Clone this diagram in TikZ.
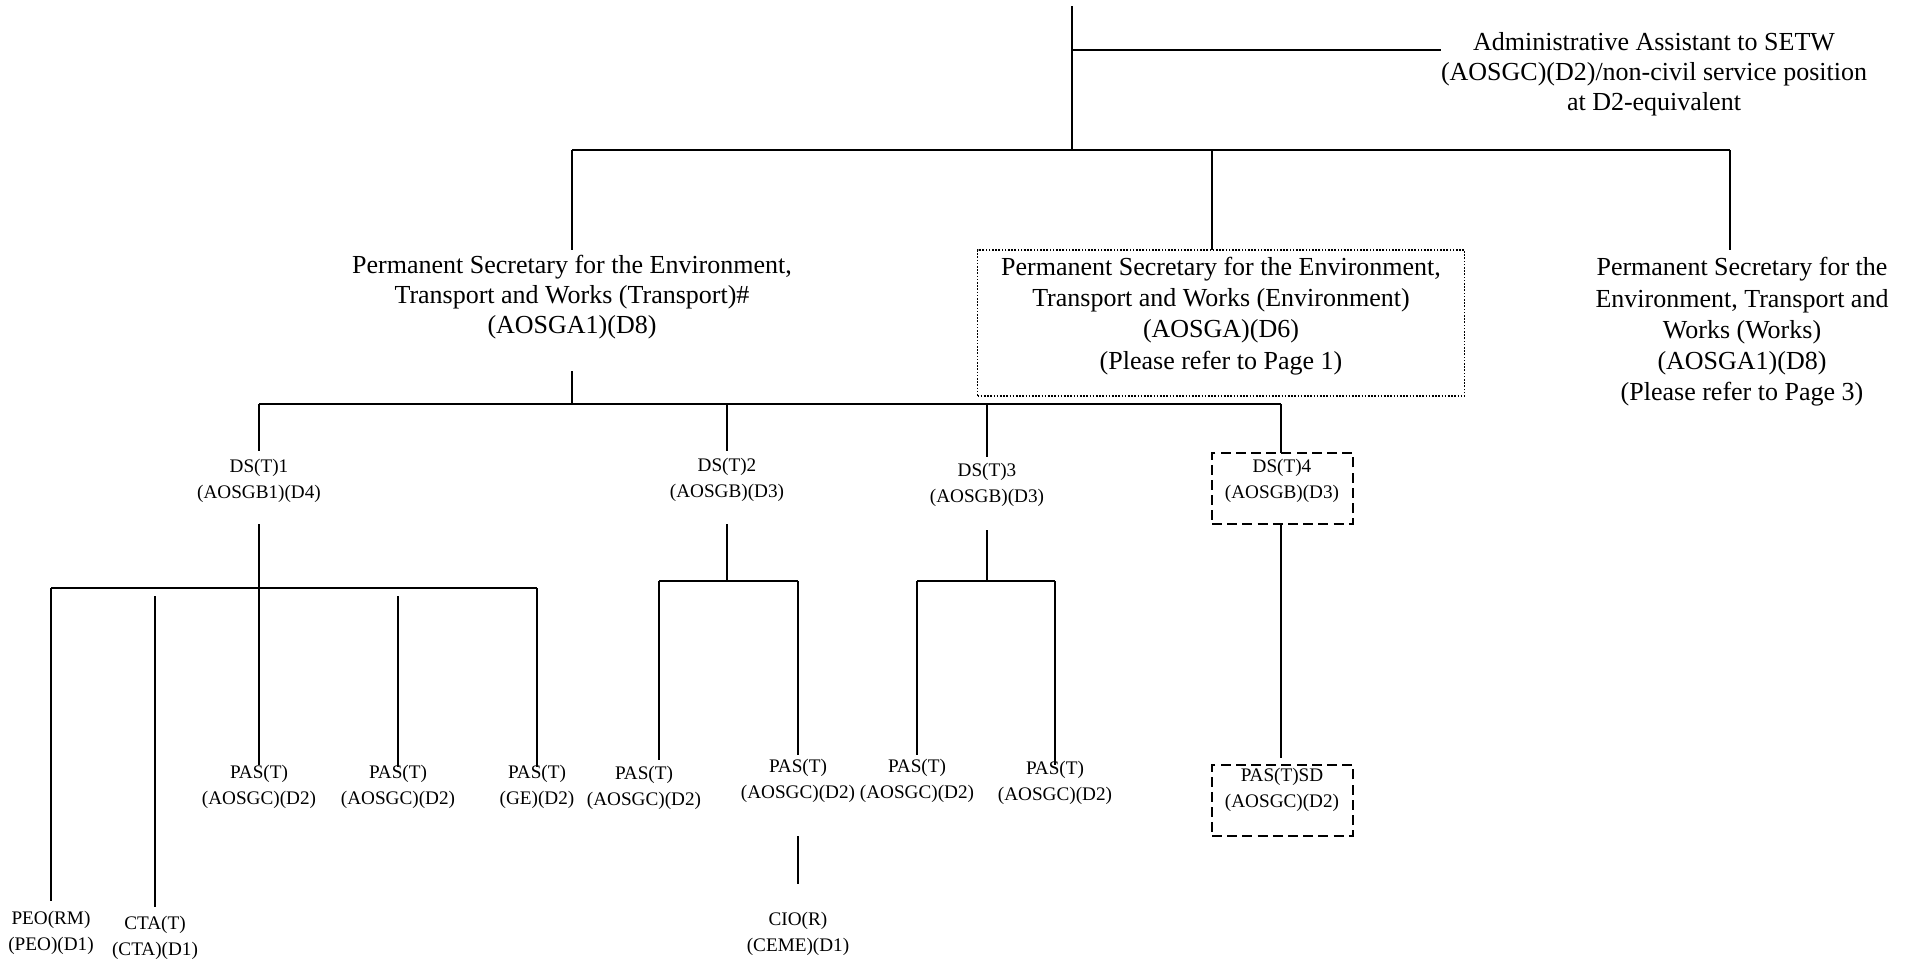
\documentclass[tikz,border=0pt]{standalone}
\usepackage{fontspec}
\setmainfont{Liberation Serif}
\begin{document}
\begin{tikzpicture}[x=0.5pt,y=-0.5pt,
  big/.style={font=\fontsize{13}{15}\selectfont, align=center, inner sep=0pt},
  bigw/.style={font=\fontsize{13}{15.6}\selectfont, align=center, inner sep=0pt},
  small/.style={font=\fontsize{9.6}{12.8}\selectfont, align=center, inner sep=0pt},
  link/.style={line width=0.8pt},
  dotbox/.style={draw, line width=0.7pt, dash pattern=on 0.8pt off 0.8pt, inner sep=0pt, outer sep=0pt},
  dashbox/.style={draw, line width=1pt, dash pattern=on 5pt off 2.6pt, inner sep=0pt, outer sep=0pt}]
\useasboundingbox (0,0) rectangle (1910,959);

% ---------- text nodes ----------
\node[big] (adm) at (1654,74) {Administrative Assistant to SETW\\(AOSGC)(D2)/non-civil service position\\at D2-equivalent};
\node[big] (pst) at (572,297) {Permanent Secretary for the Environment,\\Transport and Works (Transport)\#\\(AOSGA1)(D8)};
\node[dotbox, minimum width=243.5pt, minimum height=73pt] (pse) at (1221,323) {};
\node[bigw] (pse-t) at (1221,316) {Permanent Secretary for the Environment,\\Transport and Works (Environment)\\(AOSGA)(D6)\\(Please refer to Page 1)};
\node[bigw] (psw) at (1742,332) {Permanent Secretary for the\\Environment, Transport and\\Works (Works)\\(AOSGA1)(D8)\\(Please refer to Page 3)};

\node[small] (ds1) at (259,481) {DS(T)1\\(AOSGB1)(D4)};
\node[small] (ds2) at (727,480) {DS(T)2\\(AOSGB)(D3)};
\node[small] (ds3) at (987,485) {DS(T)3\\(AOSGB)(D3)};
\node[dashbox, minimum width=70.5pt, minimum height=35.5pt] (ds4) at (1282.5,488.5) {};
\node[small] (ds4-t) at (1282,481) {DS(T)4\\(AOSGB)(D3)};

\node[small] (pas1) at (259,787) {PAS(T)\\(AOSGC)(D2)};
\node[small] (pas2) at (398,787) {PAS(T)\\(AOSGC)(D2)};
\node[small] (pas3) at (537,787) {PAS(T)\\(GE)(D2)};
\node[small] (pas4) at (644,788) {PAS(T)\\(AOSGC)(D2)};
\node[small] (pas5) at (798,781) {PAS(T)\\(AOSGC)(D2)};
\node[small] (pas6) at (917,781) {PAS(T)\\(AOSGC)(D2)};
\node[small] (pas7) at (1055,783) {PAS(T)\\(AOSGC)(D2)};
\node[dashbox, minimum width=70.5pt, minimum height=35.5pt] (passd) at (1282.5,800.5) {};
\node[small] (passd-t) at (1282,790) {PAS(T)SD\\(AOSGC)(D2)};

\node[small] (peo) at (51,933) {PEO(RM)\\(PEO)(D1)};
\node[small] (cta) at (155,938) {CTA(T)\\(CTA)(D1)};
\node[small] (cio) at (798,934) {CIO(R)\\(CEME)(D1)};

% ---------- junction coordinates ----------
\coordinate (top) at (1072,6);
\coordinate (admj) at (1072,50);
\coordinate (l1c) at (1072,150);
\coordinate (l1a) at (572,150);
\coordinate (l1b) at (1212,150);
\coordinate (l1d) at (1730,150);
\coordinate (pst-in) at (572,250);
\coordinate (psw-in) at (1730,250);
\coordinate (pst-out) at (572,371);
\coordinate (l2c) at (572,404);
\coordinate (l2a) at (259,404);
\coordinate (l2b) at (727,404);
\coordinate (l2d) at (987,404);
\coordinate (l2e) at (1281,404);
\coordinate (ds1-in) at (259,451);
\coordinate (ds2-in) at (727,451);
\coordinate (ds3-in) at (987,457);
\coordinate (ds1-out) at (259,524);
\coordinate (b1c) at (259,588);
\coordinate (b1a) at (51,588);
\coordinate (b1e) at (537,588);
\coordinate (peo-in) at (51,901);
\coordinate (cta-top) at (155,596);
\coordinate (cta-in) at (155,907);
\coordinate (pas1-in) at (259,765);
\coordinate (pas2-top) at (398,596);
\coordinate (pas2-in) at (398,767);
\coordinate (pas3-in) at (537,767);
\coordinate (ds2-out) at (727,524);
\coordinate (b2c) at (727,581);
\coordinate (b2a) at (659,581);
\coordinate (b2b) at (798,581);
\coordinate (pas4-in) at (659,760);
\coordinate (pas5-in) at (798,755);
\coordinate (pas5-out) at (798,836);
\coordinate (cio-in) at (798,884);
\coordinate (ds3-out) at (987,530);
\coordinate (b3c) at (987,581);
\coordinate (b3a) at (917,581);
\coordinate (b3b) at (1055,581);
\coordinate (pas6-in) at (917,755);
\coordinate (pas7-in) at (1055,765);
\coordinate (passd-in) at (1281,758);

% ---------- connectors ----------
\draw[link] (top) -- (l1c);
\draw[link] (admj) -- (adm.west |- admj);
\draw[link] (l1a) -- (l1d);
\draw[link] (l1a) -- (pst-in);
\draw[link] (l1b) -- (l1b |- pse.north);
\draw[link] (l1d) -- (psw-in);
\draw[link] (pst-out) -- (l2c);
\draw[link] (l2a) -- (l2e);
\draw[link] (l2a) -- (ds1-in);
\draw[link] (l2b) -- (ds2-in);
\draw[link] (l2d) -- (ds3-in);
\draw[link] (l2e) -- (l2e |- ds4.north);
% DS(T)1 branch
\draw[link] (ds1-out) -- (b1c);
\draw[link] (b1a) -- (b1e);
\draw[link] (b1a) -- (peo-in);
\draw[link] (cta-top) -- (cta-in);
\draw[link] (b1c) -- (pas1-in);
\draw[link] (pas2-top) -- (pas2-in);
\draw[link] (b1e) -- (pas3-in);
% DS(T)2 branch
\draw[link] (ds2-out) -- (b2c);
\draw[link] (b2a) -- (b2b);
\draw[link] (b2a) -- (pas4-in);
\draw[link] (b2b) -- (pas5-in);
\draw[link] (pas5-out) -- (cio-in);
% DS(T)3 branch
\draw[link] (ds3-out) -- (b3c);
\draw[link] (b3a) -- (b3b);
\draw[link] (b3a) -- (pas6-in);
\draw[link] (b3b) -- (pas7-in);
% DS(T)4 branch
\draw[link] (ds4.south -| l2e) -- (passd-in);
\end{tikzpicture}
\end{document}
